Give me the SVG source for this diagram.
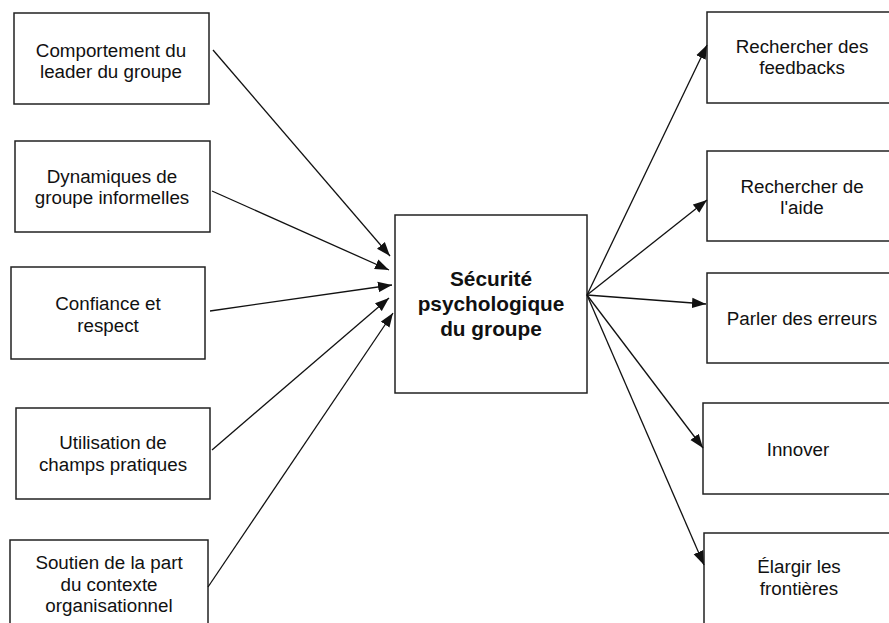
<svg xmlns="http://www.w3.org/2000/svg" width="889" height="623" viewBox="0 0 889 623">
<style>
rect{fill:#fff;stroke:#222;stroke-width:1.5}
text{font-family:"Liberation Sans",Arial,sans-serif;font-size:18.8px;fill:#111;text-anchor:middle}
.b{font-weight:bold;font-size:20.8px}
.c line{stroke:#111;stroke-width:1.3;marker-end:url(#ah)}
</style>
<defs>
<marker id="ah" markerUnits="userSpaceOnUse" markerWidth="15" markerHeight="12" refX="14" refY="6" orient="auto">
<path d="M0,0.8 L14,6 L0,11.2 z" fill="#111"/>
</marker>
</defs>
<rect width="889" height="623" style="fill:#fff;stroke:none"/>
<g id="n1"><rect x="14" y="13" width="195" height="91"/><text x="111" y="57">Comportement du</text><text x="111" y="78">leader du groupe</text></g>
<g id="n2"><rect x="15" y="141" width="195" height="91"/><text x="112" y="183">Dynamiques de</text><text x="112" y="204">groupe informelles</text></g>
<g id="n3"><rect x="11" y="267" width="194" height="92"/><text x="108" y="310">Confiance et</text><text x="108" y="332">respect</text></g>
<g id="n4"><rect x="16" y="408" width="194" height="91"/><text x="113" y="449">Utilisation de</text><text x="113" y="471">champs pratiques</text></g>
<g id="n5"><rect x="10" y="540" width="198" height="90"/><text x="109" y="569">Soutien de la part</text><text x="109" y="591">du contexte</text><text x="109" y="612">organisationnel</text></g>
<g id="center"><rect x="395" y="215" width="192" height="178"/><text class="b" x="491" y="286">Sécurité</text><text class="b" x="491" y="311">psychologique</text><text class="b" x="491" y="336">du groupe</text></g>
<g id="r1"><rect x="707" y="12" width="195" height="91"/><text x="802" y="53">Rechercher des</text><text x="802" y="74">feedbacks</text></g>
<g id="r2"><rect x="707" y="151" width="195" height="90"/><text x="802" y="193">Rechercher de</text><text x="802" y="214">l'aide</text></g>
<g id="r3"><rect x="707" y="273" width="195" height="90"/><text x="802" y="325">Parler des erreurs</text></g>
<g id="r4"><rect x="703" y="403" width="199" height="91"/><text x="798" y="456">Innover</text></g>
<g id="r5"><rect x="704" y="533" width="198" height="100"/><text x="799" y="573">Élargir les</text><text x="799" y="595">frontières</text></g>
<g id="connectors" class="c">
<line x1="213" y1="50" x2="390" y2="256"/>
<line x1="212" y1="191" x2="389" y2="270"/>
<line x1="210" y1="311" x2="392" y2="285"/>
<line x1="212" y1="450" x2="389" y2="298"/>
<line x1="208" y1="587" x2="393" y2="313"/>
<line x1="587" y1="295" x2="707" y2="45"/>
<line x1="587" y1="295" x2="707" y2="200"/>
<line x1="587" y1="295" x2="706" y2="304"/>
<line x1="587" y1="295" x2="703" y2="448"/>
<line x1="587" y1="295" x2="704" y2="565"/>
</g>
</svg>
